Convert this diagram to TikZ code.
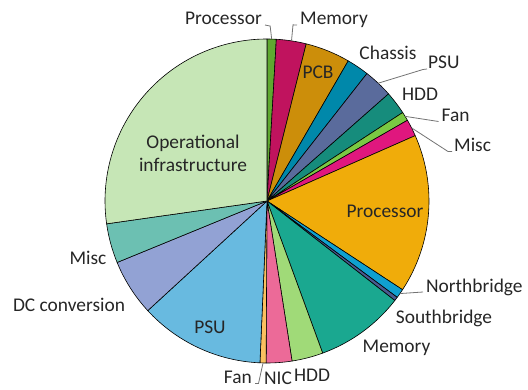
\documentclass[tikz,border=0pt]{standalone}
\usepackage{fontspec}
\setmainfont{Carlito}
\usepackage{tikz}

\definecolor{procTop}{HTML}{5FA830}
\definecolor{memTop}{HTML}{C0135E}
\definecolor{pcbCol}{HTML}{CC8E0A}
\definecolor{chassisCol}{HTML}{0088AA}
\definecolor{psuTop}{HTML}{5A6B9C}
\definecolor{hddTop}{HTML}{168C7C}
\definecolor{fanTop}{HTML}{7AC943}
\definecolor{miscTop}{HTML}{E0177E}
\definecolor{procBig}{HTML}{F0AC0A}
\definecolor{northCol}{HTML}{10A0D0}
\definecolor{southCol}{HTML}{4A5A90}
\definecolor{memBig}{HTML}{1AA890}
\definecolor{hddBig}{HTML}{A0DA78}
\definecolor{nicCol}{HTML}{EC6A98}
\definecolor{fanBig}{HTML}{FAC060}
\definecolor{psuBig}{HTML}{68BAE0}
\definecolor{dcCol}{HTML}{92A2D4}
\definecolor{miscBig}{HTML}{6CC0B2}
\definecolor{opsCol}{HTML}{C6E6B6}

\tikzset{
  wedge/.style={draw=black, line width=0.6pt, line join=round},
  lbl/.style={font=\fontsize{19.4}{23.3}\selectfont, text=black!85, inner sep=0pt},
  leader/.style={draw=black!55, line width=0.8pt}
}
\newcommand{\pieR}{162}

\begin{document}
\begin{tikzpicture}[x=1pt, y=1pt]
\useasboundingbox (0,0) rectangle (528,389);
\coordinate (ctr) at (267,188);

\draw[wedge, fill=procTop] (ctr) -- ++(90:\pieR) arc[start angle=90, end angle=86.7, radius=\pieR] -- cycle;
\draw[wedge, fill=memTop] (ctr) -- ++(86.7:\pieR) arc[start angle=86.7, end angle=76, radius=\pieR] -- cycle;
\draw[wedge, fill=pcbCol] (ctr) -- ++(76:\pieR) arc[start angle=76, end angle=59.9, radius=\pieR] -- cycle;
\draw[wedge, fill=chassisCol] (ctr) -- ++(59.9:\pieR) arc[start angle=59.9, end angle=51.9, radius=\pieR] -- cycle;
\draw[wedge, fill=psuTop] (ctr) -- ++(51.9:\pieR) arc[start angle=51.9, end angle=41.4, radius=\pieR] -- cycle;
\draw[wedge, fill=hddTop] (ctr) -- ++(41.4:\pieR) arc[start angle=41.4, end angle=33.1, radius=\pieR] -- cycle;
\draw[wedge, fill=fanTop] (ctr) -- ++(33.1:\pieR) arc[start angle=33.1, end angle=29.9, radius=\pieR] -- cycle;
\draw[wedge, fill=miscTop] (ctr) -- ++(29.9:\pieR) arc[start angle=29.9, end angle=23.8, radius=\pieR] -- cycle;
\draw[wedge, fill=procBig] (ctr) -- ++(23.8:\pieR) arc[start angle=23.8, end angle=-33.2, radius=\pieR] -- cycle;
\draw[wedge, fill=northCol] (ctr) -- ++(-33.2:\pieR) arc[start angle=-33.2, end angle=-36.5, radius=\pieR] -- cycle;
\draw[wedge, fill=southCol] (ctr) -- ++(-36.5:\pieR) arc[start angle=-36.5, end angle=-37.9, radius=\pieR] -- cycle;
\draw[wedge, fill=memBig] (ctr) -- ++(-37.9:\pieR) arc[start angle=-37.9, end angle=-69.9, radius=\pieR] -- cycle;
\draw[wedge, fill=hddBig] (ctr) -- ++(-69.9:\pieR) arc[start angle=-69.9, end angle=-81.1, radius=\pieR] -- cycle;
\draw[wedge, fill=nicCol] (ctr) -- ++(-81.1:\pieR) arc[start angle=-81.1, end angle=-90.3, radius=\pieR] -- cycle;
\draw[wedge, fill=fanBig] (ctr) -- ++(-90.3:\pieR) arc[start angle=-90.3, end angle=-92.5, radius=\pieR] -- cycle;
\draw[wedge, fill=psuBig] (ctr) -- ++(-92.5:\pieR) arc[start angle=-92.5, end angle=-137.4, radius=\pieR] -- cycle;
\draw[wedge, fill=dcCol] (ctr) -- ++(-137.4:\pieR) arc[start angle=-137.4, end angle=-157.7, radius=\pieR] -- cycle;
\draw[wedge, fill=miscBig] (ctr) -- ++(-157.7:\pieR) arc[start angle=-157.7, end angle=-171.9, radius=\pieR] -- cycle;
\draw[wedge, fill=opsCol] (ctr) -- ++(-171.9:\pieR) arc[start angle=-171.9, end angle=-270, radius=\pieR] -- cycle;

\path (ctr) ++(88.35:\pieR) coordinate (rimProcT);
\path (ctr) ++(81.3:\pieR) coordinate (rimMemT);
\path (ctr) ++(46.65:\pieR) coordinate (rimPsuT);
\path (ctr) ++(31.5:\pieR) coordinate (rimFanT);
\path (ctr) ++(26.85:\pieR) coordinate (rimMiscT);
\path (ctr) ++(-34.85:\pieR) coordinate (rimNorth);
\path (ctr) ++(-91.4:\pieR) coordinate (rimFanB);

\node[lbl, anchor=base east] (labProcT) at (262,364) {Processor};
\node[lbl, anchor=base west] (labMemT) at (300,364) {Memory};
\node[lbl] (labPcb) at (318,317) {PCB};
\node[lbl] (labChassis) at (388,336) {Chassis};
\node[lbl, anchor=base west] (labPsuT) at (428,320) {PSU};
\node[lbl] (labHddT) at (420,295) {HDD};
\node[lbl, anchor=base west] (labFanT) at (441.5,267.5) {Fan};
\node[lbl, anchor=base west] (labMiscT) at (454,237.5) {Misc};
\node[lbl] (labProcB) at (385,178) {Processor};
\node[lbl, anchor=base west] (labNorth) at (426,97) {Northbridge};
\node[lbl] (labSouth) at (444,71) {Southbridge};
\node[lbl] (labMemB) at (396.5,41) {Memory};
\node[lbl] (labHddB) at (312,14) {HDD};
\node[lbl, anchor=base] (labNic) at (278,5) {NIC};
\node[lbl, anchor=base east] (labFanB) at (252,5.5) {Fan};
\node[lbl] (labPsuB) at (210,62) {PSU};
\node[lbl] (labDc) at (69,84) {DC conversion};
\node[lbl] (labMiscB) at (88,131) {Misc};
\node[lbl, align=center] (labOps) at (193,236) {Operational\\infrastructure};

\draw[leader] (rimProcT) -- ++(-1.5,13) -- ([xshift=3]labProcT.base east);
\draw[leader] (rimMemT) -- ++(1.5,16) -- ([xshift=-3]labMemT.base west);
\draw[leader] (rimPsuT) -- (423,319.5) -- ([xshift=-1]labPsuT.base west);
\draw[leader] (rimFanT) -- ([xshift=-3]labFanT.base west);
\draw[leader] (rimMiscT) -- (448,237.5) -- ([xshift=-2]labMiscT.base west);
\draw[leader] (rimNorth) -- ([xshift=-3]labNorth.base west);
\draw[leader] (rimFanB) -- (258.5,5.5) -- ([xshift=3]labFanB.base east);
\end{tikzpicture}
\end{document}
